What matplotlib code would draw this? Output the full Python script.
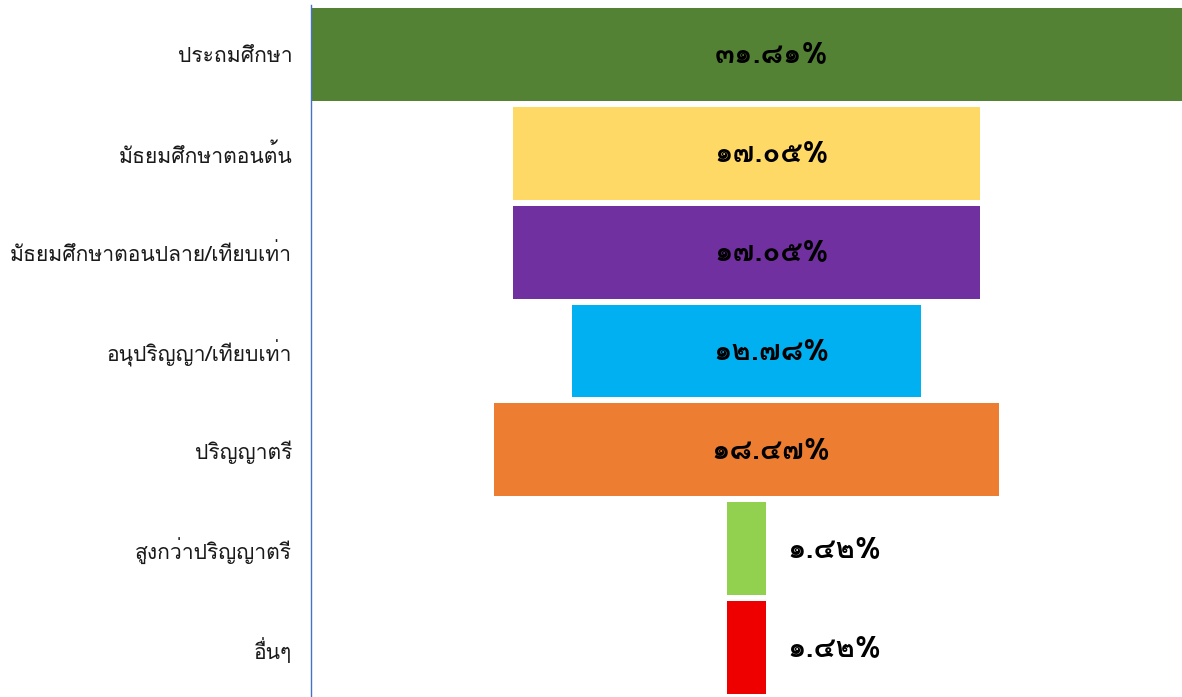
import matplotlib
matplotlib.use("Agg")
import matplotlib.pyplot as plt
from matplotlib import font_manager
from matplotlib.ft2font import FT2Font

categories = ["ประถมศึกษา", "มัธยมศึกษาตอนต้น", "มัธยมศึกษาตอนปลาย/เทียบเท่า",
              "อนุปริญญา/เทียบเท่า", "ปริญญาตรี", "สูงกว่าปริญญาตรี", "อื่นๆ"]
values = [31.81, 17.05, 17.05, 12.78, 18.47, 1.42, 1.42]
colors = ["#548235", "#FFD966", "#7030A0", "#00B0F0", "#ED7D31", "#92D050", "#EE0000"]


def find_thai_font():
    # look for an installed font that has Thai glyphs
    for path in sorted(font_manager.findSystemFonts()):
        try:
            cmap = FT2Font(path).get_charmap()
        except Exception:
            continue
        if 0x0E1B in cmap and 0x0E51 in cmap:
            return font_manager.FontProperties(fname=path).get_name()
    return None


thai = find_thai_font()
plt.rcParams['font.family'] = [f for f in [thai, 'DejaVu Sans'] if f]

thai_digits = str.maketrans("0123456789", "๐๑๒๓๔๕๖๗๘๙")

fig = plt.figure(figsize=(11.82, 6.97), dpi=100)
ax = fig.add_axes([311 / 1182, 0, 871 / 1182, 692 / 697])

n = len(values)
ys = list(range(n))
ax.barh(ys, values, left=[-v / 2 for v in values], height=0.94, color=colors)

for y, v in zip(ys, values):
    txt = f"{v:.2f}%".translate(thai_digits)
    if v > 5:
        ax.text(0.9, y, txt, ha="center", va="center", fontsize=21, fontweight="bold")
    else:
        ax.text(v / 2 + 0.8, y, txt, ha="left", va="center", fontsize=21, fontweight="bold")

ax.set_xlim(-max(values) / 2, max(values) / 2)
ax.set_ylim(n - 0.5, -0.5)
ax.set_yticks(ys)
ax.set_yticklabels(categories, fontsize=15.2, color="#1a1a1a")
ax.tick_params(axis="y", length=0, pad=13.5)
ax.set_xticks([])
for s in ["top", "right", "bottom"]:
    ax.spines[s].set_visible(False)
ax.spines["left"].set_color("#4472C4")
ax.spines["left"].set_linewidth(1)

fig.savefig("out.png", dpi=100)
